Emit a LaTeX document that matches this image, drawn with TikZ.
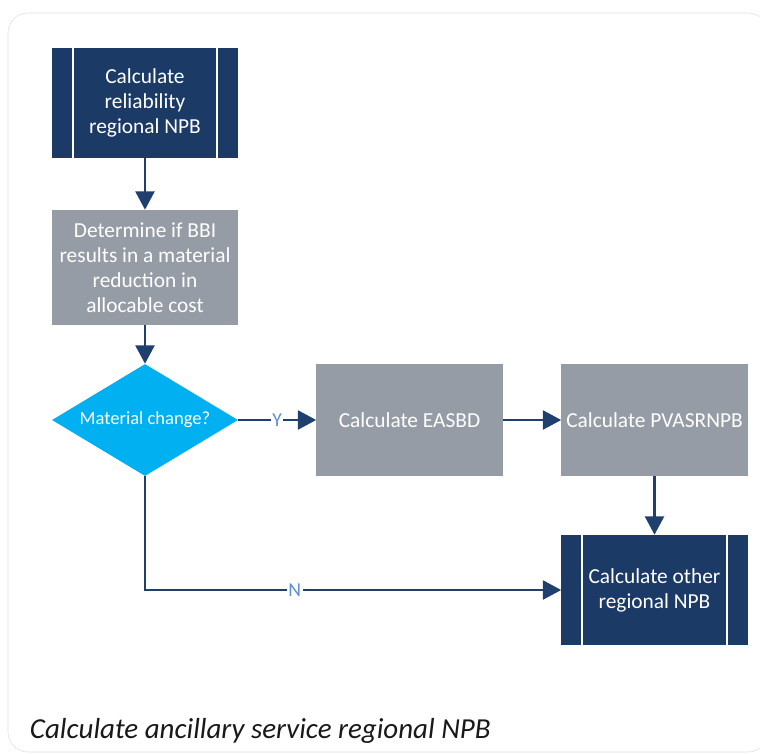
\documentclass[tikz,border=0pt]{standalone}
\usepackage{fontspec}
\setmainfont{Carlito}
\usetikzlibrary{shapes.geometric,arrows.meta,calc}

\definecolor{navy}{HTML}{1B3A65}
\definecolor{boxgray}{HTML}{959CA6}
\definecolor{cyanfill}{HTML}{00B0F0}
\definecolor{linkblue}{HTML}{1F3F6E}
\definecolor{labelblue}{HTML}{5B8FD6}

\tikzset{
    box/.style={rectangle, fill=boxgray, text=white, align=center,
        minimum width=4.65cm, minimum height=2.8cm, inner sep=1pt,
        font=\fontsize{15.2}{17.7}\selectfont},
    subproc/.style={box, fill=navy, minimum height=2.75cm},
    decision/.style={diamond, fill=cyanfill, text=white, aspect=1.66,
        minimum width=4.65cm, minimum height=2.8cm, inner sep=1pt,
        font=\fontsize{13.2}{16}\selectfont},
    link/.style={draw=linkblue, line width=1.6pt,
        -{Triangle[length=13pt,width=13.5pt]}},
    yn/.style={fill=white, text=labelblue, inner sep=1pt,
        font=\fontsize{14}{16}\selectfont}
}

\begin{document}
\begin{tikzpicture}[x=0.025cm, y=-0.025cm]
    \useasboundingbox (0,0) rectangle (760,754);
    \draw[draw=black!12, fill=white, rounded corners=0.5cm] (8,13) rectangle (768,752);

    % nodes
    \node[subproc] (reliab) at (145,103) {Calculate\\reliability\\regional NPB};
    \node[box, minimum height=2.875cm] (determine) at (145,267.5)
        {Determine if BBI\\results in a material\\reduction in\\allocable cost};
    \node[decision] (matchange) at (145,420) {Material change?};
    \node[box] (easbd) at (409.5,420) {Calculate EASBD};
    \node[box] (pvasr) at (654.5,420) {Calculate PVASRNPB};
    \node[subproc] (othernpb) at (654.5,590) {Calculate other\\regional NPB};

    % side bars of the sub-process boxes
    \foreach \n in {reliab, othernpb} {
        \draw[white, line width=1.3pt] ($(\n.north west)+(21,0)$) -- ($(\n.south west)+(21,0)$);
        \draw[white, line width=1.3pt] ($(\n.north east)+(-21,0)$) -- ($(\n.south east)+(-21,0)$);
    }

    % connectors
    \draw[link] (reliab) -- (determine);
    \draw[link] (determine) -- (matchange);
    \draw[link] (matchange) -- node[yn] {Y} (easbd);
    \draw[link] (easbd) -- (pvasr);
    \draw[link] (pvasr) -- (othernpb);
    \draw[link] (matchange.south) |- node[yn, pos=0.68] {N} (othernpb.west);

    \node[anchor=west, text=black!90, font=\fontsize{20.6}{24}\selectfont\itshape]
        (caption) at (25,731) {Calculate ancillary service regional NPB};
\end{tikzpicture}
\end{document}
